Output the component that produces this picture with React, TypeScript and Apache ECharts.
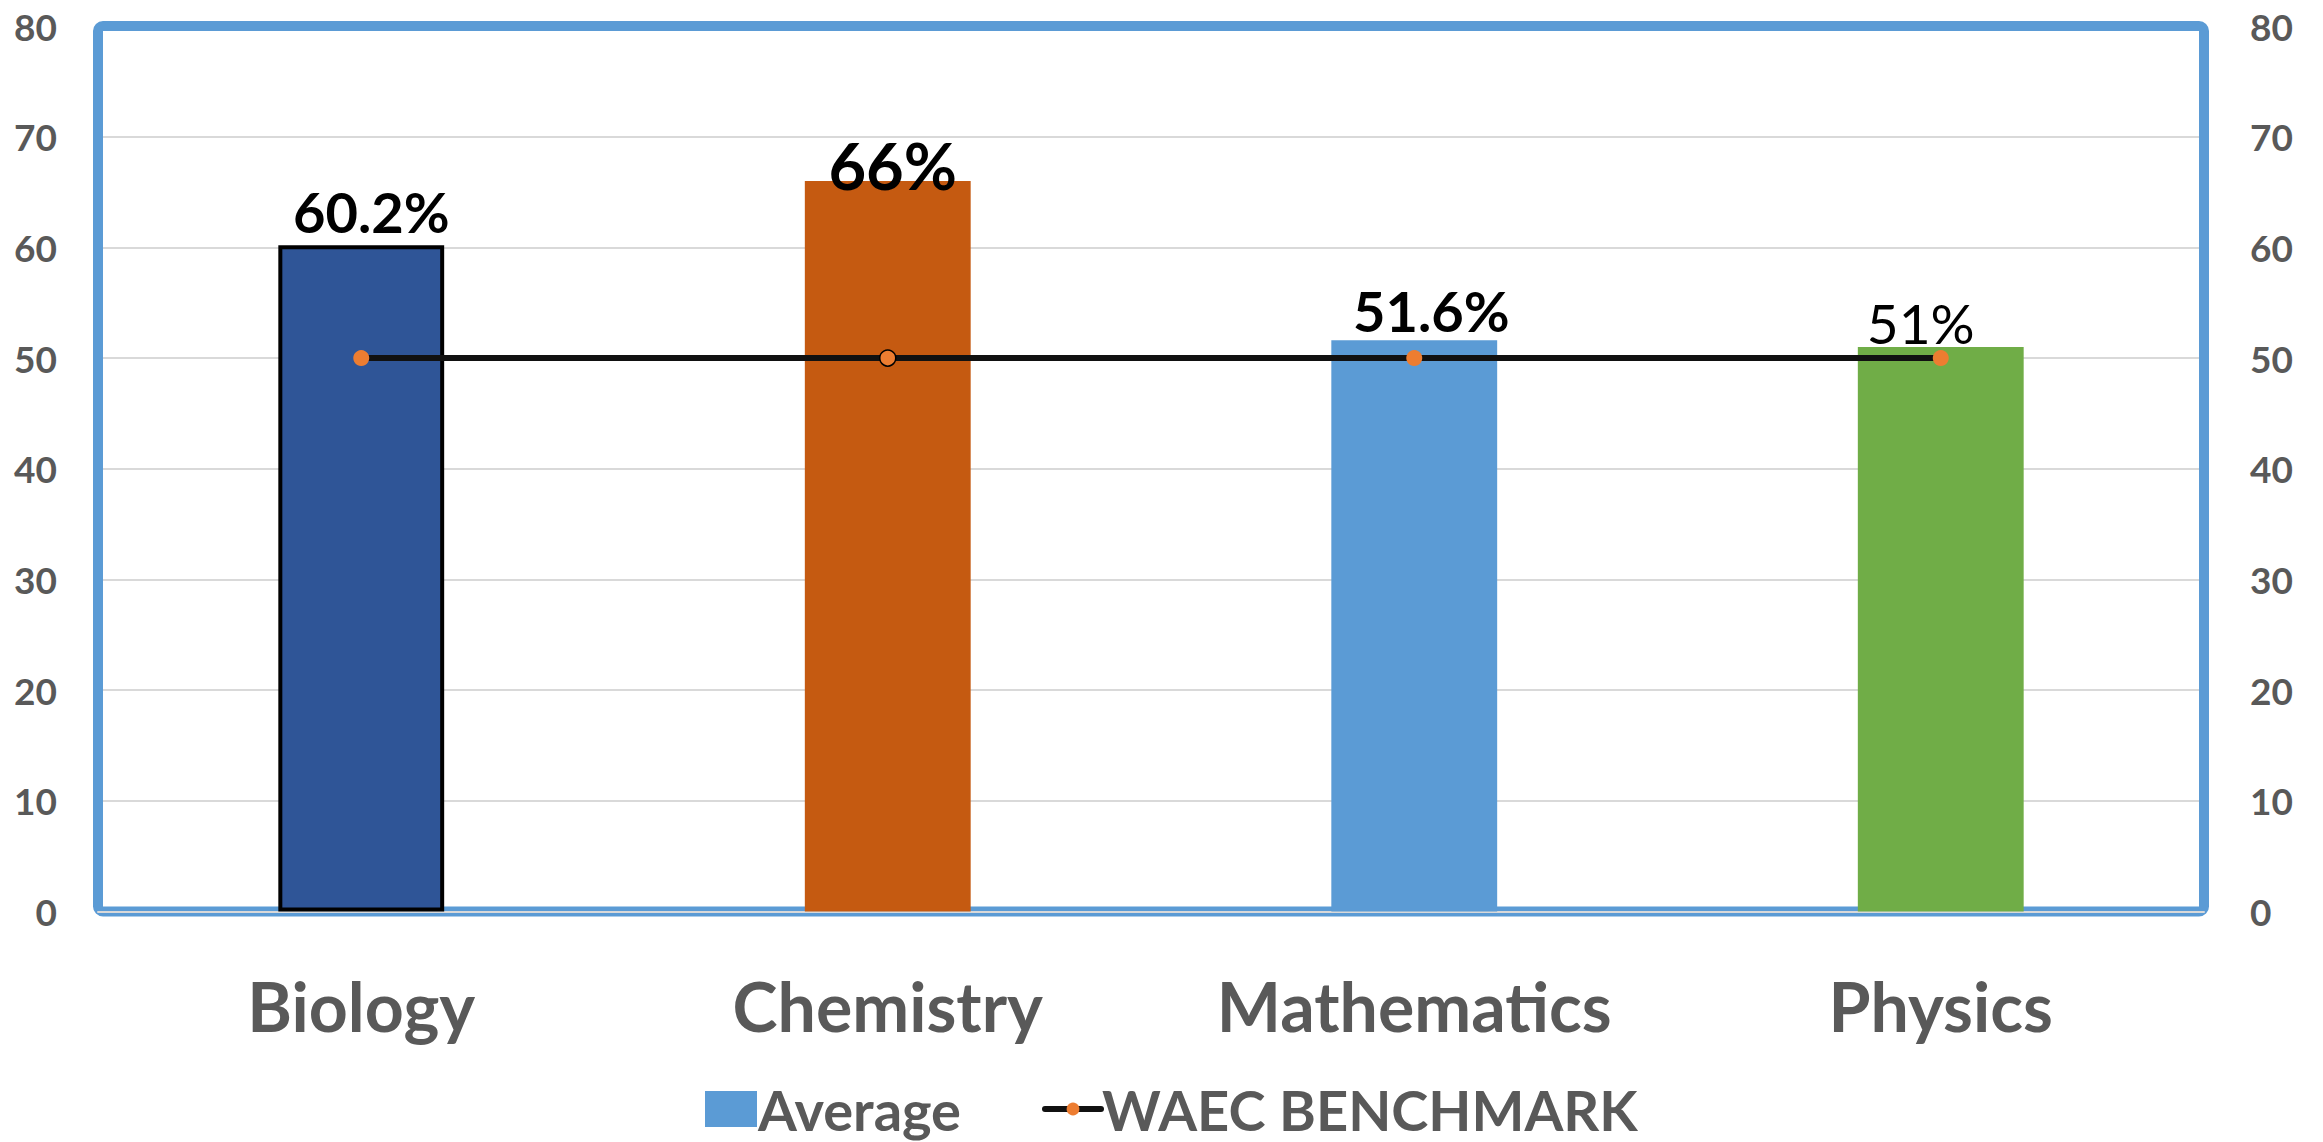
import React, { useEffect, useRef } from "react";
import * as echarts from "echarts";

// Subjects and their average scores (%)
const categories = ["Biology", "Chemistry", "Mathematics", "Physics"];
const averageValues = [60.2, 66, 51.6, 51];
// WAEC pass benchmark for each subject
const benchmarkValues = [50, 50, 50, 50];

// Value axis range
const axisMin = 0;
const axisMax = 80;
const axisInterval = 10;

const barColors = ["#2F5597", "#C55A11", "#5B9BD5", "#70AD47"];

// Per-bar label styling (size, weight, nudges)
const labelStyles: Record<string, { fontSize: number; fontWeight: string; distance: number; dx: number }> = {
  Biology: { fontSize: 56, fontWeight: "bold", distance: 6, dx: 10 },
  Chemistry: { fontSize: 65, fontWeight: "bold", distance: -17, dx: 5 },
  Mathematics: { fontSize: 56, fontWeight: "bold", distance: 2, dx: 17 },
  Physics: { fontSize: 55, fontWeight: "normal", distance: -4, dx: -20 },
};

const FONT = "Lato, 'Open Sans', sans-serif";
const GREY = "#595959";
const FRAME_BLUE = "#5B9BD5";

// Plot box (px)
const PLOT = { left: 98, top: 26, right: 2204, bottom: 911.5 };
const W = 2323;
const H = 1142;

export default function App() {
  const ref = useRef<HTMLDivElement>(null);

  useEffect(() => {
    if (!ref.current) return;
    const chart = echarts.init(ref.current, undefined, { renderer: "svg" });

    const barData = averageValues.map((v, i) => {
      const cat = categories[i];
      const ls = labelStyles[cat];
      const item: any = {
        value: v,
        itemStyle: { color: barColors[i] },
        label: {
          show: true,
          position: "top",
          distance: ls.distance,
          offset: [ls.dx, 0],
          fontSize: ls.fontSize,
          fontWeight: ls.fontWeight,
          lineHeight: ls.fontSize,
          color: "#000000",
          fontFamily: FONT,
          formatter: (p: any) => `${p.value}%`,
        },
      };
      if (cat === "Biology") {
        item.itemStyle.borderColor = "#000000";
        item.itemStyle.borderWidth = 4;
      }
      return item;
    });

    const lineData = benchmarkValues.map((v, i) => {
      const item: any = { value: v };
      if (categories[i] === "Chemistry") {
        item.itemStyle = { borderColor: "#000000", borderWidth: 1.5 };
      }
      return item;
    });

    const yAxisCommon = {
      type: "value",
      min: axisMin,
      max: axisMax,
      interval: axisInterval,
      axisLine: { show: false },
      axisTick: { show: false },
    };

    const legendText = {
      fontSize: 56,
      lineHeight: 56,
      fontWeight: "bold",
      color: GREY,
      fontFamily: FONT,
      padding: [0, 0, 0, -4],
    };

    chart.setOption({
      animation: false,
      backgroundColor: "#ffffff",
      textStyle: { fontFamily: FONT },
      grid: {
        left: PLOT.left,
        top: PLOT.top,
        right: W - PLOT.right,
        bottom: H - PLOT.bottom,
      },
      // rounded blue frame around the plot area
      graphic: [
        {
          type: "rect",
          z: 1,
          silent: true,
          shape: {
            x: PLOT.left,
            y: PLOT.top,
            width: PLOT.right - PLOT.left,
            height: PLOT.bottom - PLOT.top,
            r: 5,
          },
          style: { fill: "none", stroke: FRAME_BLUE, lineWidth: 10 },
        },
      ],
      xAxis: {
        type: "category",
        data: categories,
        z: 2,
        axisTick: { show: false },
        axisLine: { show: true, lineStyle: { color: "#D9D9D9", width: 2 } },
        axisLabel: {
          margin: 60,
          fontSize: 68,
          lineHeight: 68,
          fontWeight: "bold",
          color: GREY,
          fontFamily: FONT,
        },
      },
      yAxis: [
        {
          ...yAxisCommon,
          position: "left",
          splitLine: { show: true, lineStyle: { color: "#D9D9D9", width: 2 } },
          axisLabel: { margin: 41, fontSize: 37, fontWeight: "bold", color: GREY, fontFamily: FONT },
        },
        {
          ...yAxisCommon,
          position: "right",
          splitLine: { show: false },
          axisLabel: { margin: 46, fontSize: 37, fontWeight: "bold", color: GREY, fontFamily: FONT },
        },
      ],
      legend: [
        {
          data: [{ name: "Average", icon: "rect" }],
          left: 700,
          top: 1076,
          itemWidth: 52,
          itemHeight: 36,
          itemGap: 0,
          textStyle: legendText,
        },
        {
          data: ["WAEC BENCHMARK"],
          left: 1037,
          top: 1076,
          itemWidth: 56,
          itemHeight: 16,
          itemGap: 0,
          lineStyle: { width: 6, color: "#111111", cap: "round" },
          textStyle: legendText,
        },
      ],
      series: [
        {
          name: "Average",
          type: "bar",
          yAxisIndex: 0,
          barWidth: "31.5%",
          itemStyle: { color: FRAME_BLUE },
          data: barData,
          z: 3,
        },
        {
          name: "WAEC BENCHMARK",
          type: "line",
          yAxisIndex: 1,
          data: lineData,
          symbol: "circle",
          symbolSize: 16,
          lineStyle: { color: "#111111", width: 6 },
          itemStyle: { color: "#ED7D31" },
          z: 4,
        },
      ],
    });

    return () => chart.dispose();
  }, []);

  return (
    <div
      ref={ref}
      style={{ position: "fixed", left: 0, top: 0, width: W, height: H }}
    />
  );
}
